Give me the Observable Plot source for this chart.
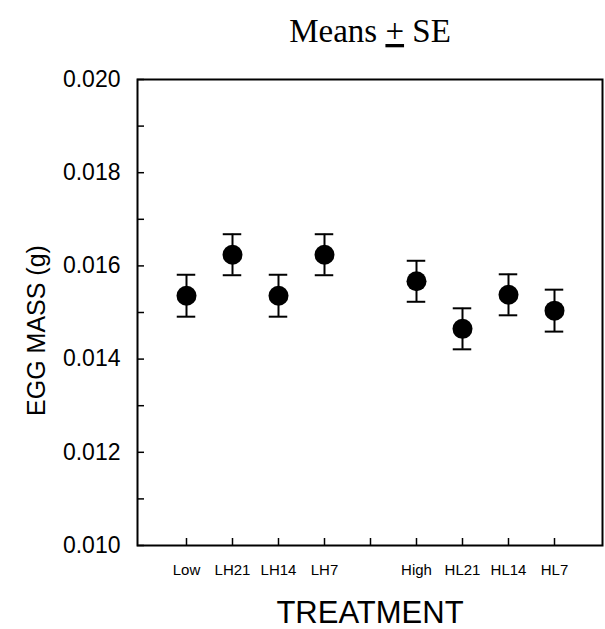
<!DOCTYPE html>
<html>
<head>
<meta charset="utf-8">
<script src="https://cdn.jsdelivr.net/npm/d3@7"></script>
<script src="https://cdn.jsdelivr.net/npm/@observablehq/plot@0.6"></script>
<style>
  html, body { margin: 0; padding: 0; background: #fff; }
  #chart svg { display: block; }
</style>
</head>
<body>
<div id="chart"></div>
<script>
// ---- data ----
const categories = ["Low", "LH21", "LH14", "LH7", "", "High", "HL21", "HL14", "HL7"];
const treatments = ["Low", "LH21", "LH14", "LH7", "High", "HL21", "HL14", "HL7"];
const means = [0.01536, 0.01624, 0.01536, 0.01624, 0.01567, 0.01465, 0.01538, 0.01504];
const se = [0.00045, 0.00044, 0.00045, 0.00044, 0.00044, 0.00044, 0.00044, 0.00045];
const yTickLabels = [0.010, 0.012, 0.014, 0.016, 0.018, 0.020];
const yMinorTicks = [0.010, 0.011, 0.012, 0.013, 0.014, 0.015, 0.016, 0.017, 0.018, 0.019, 0.020];
const titleParts = ["Means ", "+", " SE"];
const yLabel = "EGG MASS (g)";
const xLabel = "TREATMENT";

const data = treatments.map((t, i) => ({t, mean: means[i], lo: means[i] - se[i], hi: means[i] + se[i]}));

const plot = Plot.plot({
  width: 605,
  height: 629,
  marginLeft: 137,
  marginRight: 3,
  marginTop: 79,
  marginBottom: 84,
  style: {fontFamily: "'Liberation Sans', Arial, sans-serif", color: "#000", background: "#fff"},
  x: {type: "band", domain: categories, paddingInner: 0, paddingOuter: 0.5},
  y: {domain: [0.010, 0.020]},
  marks: [
    Plot.frame({stroke: "#000", strokeWidth: 2}),
    Plot.axisY({ticks: yMinorTicks, tickSize: -7, text: null, strokeWidth: 1.5, label: null}),
    Plot.text(yTickLabels, {y: d => d, frameAnchor: "left", textAnchor: "end", dx: -17, text: d3.format(".3f"), fontSize: 23}),
    Plot.axisX({ticks: categories, tickSize: -7, text: null, strokeWidth: 1.5, label: null}),
    Plot.axisX({ticks: treatments, tickSize: 0, tickPadding: 19, fontSize: 15, label: null}),
    Plot.ruleX(data, {x: "t", y1: "lo", y2: "hi", stroke: "#000", strokeWidth: 2}),
    Plot.tickY(data, {x: "t", y: "lo", stroke: "#000", strokeWidth: 2, insetLeft: 13.75, insetRight: 13.75}),
    Plot.tickY(data, {x: "t", y: "hi", stroke: "#000", strokeWidth: 2, insetLeft: 13.75, insetRight: 13.75}),
    Plot.dot(data, {x: "t", y: "mean", r: 10, fill: "#000", stroke: null}),
    Plot.text([xLabel], {frameAnchor: "bottom", dy: 77, lineAnchor: "bottom", textAnchor: "middle", text: d => d, fontSize: 31}),
    Plot.text([yLabel], {frameAnchor: "left", dx: -101, dy: 18, rotate: -90, textAnchor: "middle", text: d => d, fontSize: 25})
  ]
});

// Title with underlined plus (±)
const svg = d3.select(plot);
const title = svg.append("text")
  .attr("x", 370)
  .attr("y", 42)
  .attr("text-anchor", "middle")
  .attr("font-family", "'Liberation Serif', 'Times New Roman', serif")
  .attr("font-size", 33)
  .attr("fill", "#000");
title.append("tspan").text(titleParts[0]);
title.append("tspan").attr("text-decoration", "underline").text(titleParts[1]);
title.append("tspan").text(titleParts[2]);

document.getElementById("chart").appendChild(plot);
</script>
</body>
</html>
